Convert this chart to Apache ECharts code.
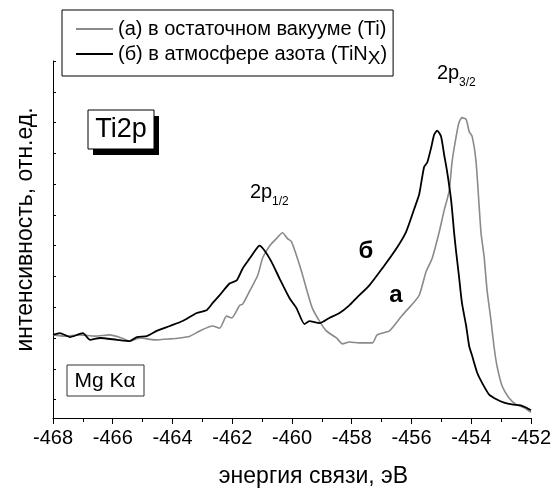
<!DOCTYPE html>
<html lang="ru">
<head>
<meta charset="UTF-8">
<title>Ti2p</title>
<script src="https://cdn.jsdelivr.net/npm/echarts@6/dist/echarts.min.js"></script>
<style>
    body { margin:0; padding:0; background:#fff; }
    #main { width:554px; height:493px; }
</style>
</head>
<body>
<div id="main"></div>
<script>
    // (а) остаточный вакуум, Ti
    var energyA = [-468.00,-467.60,-467.10,-466.60,-466.10,-465.70,-465.43,-465.09,-464.59,-464.09,-463.76,-463.42,-463.09,-462.66,-462.42,-462.19,-462.02,-461.75,-461.65,-461.42,-461.15,-460.99,-460.85,-460.69,-460.52,-460.32,-460.15,-460.02,-459.85,-459.68,-459.52,-459.32,-459.08,-458.85,-458.51,-458.31,-458.08,-457.75,-457.31,-457.15,-456.74,-456.31,-456.01,-455.74,-455.51,-455.31,-455.07,-454.91,-454.74,-454.64,-454.51,-454.41,-454.31,-454.17,-454.07,-453.97,-453.84,-453.74,-453.67,-453.57,-453.47,-453.34,-453.24,-453.14,-452.97,-452.74,-452.50,-452.24,-452.00];
    var intensA = [2.10,2.06,2.10,2.06,2.10,2.00,1.90,2.00,1.94,1.97,2.00,2.06,2.23,2.39,2.32,2.71,2.65,3.06,3.10,3.52,4.03,4.58,4.84,5.06,5.23,5.42,5.23,5.13,4.68,4.16,3.61,2.97,2.55,2.23,2.00,1.81,1.87,1.84,1.84,2.10,2.23,2.74,3.06,3.39,4.16,4.58,5.45,6.13,6.77,7.74,8.52,9.00,9.16,9.10,8.71,8.55,7.74,6.35,5.39,4.65,3.55,2.58,1.74,1.10,0.45,0.06,-0.16,-0.26,-0.42];

    // (б) атмосфера азота, TiNx
    var energyB = [-468.00,-467.77,-467.43,-467.00,-466.76,-466.43,-465.86,-465.43,-465.19,-464.86,-464.53,-464.09,-463.66,-463.19,-462.86,-462.66,-462.42,-462.09,-461.85,-461.65,-461.42,-461.19,-461.09,-460.92,-460.69,-460.42,-460.08,-459.85,-459.58,-459.42,-459.08,-458.75,-458.41,-458.08,-457.85,-457.41,-456.98,-456.51,-456.18,-455.91,-455.74,-455.58,-455.47,-455.34,-455.24,-455.14,-455.01,-454.91,-454.81,-454.67,-454.57,-454.51,-454.41,-454.31,-454.17,-454.07,-453.97,-453.80,-453.64,-453.40,-453.14,-452.90,-452.64,-452.34,-452.17,-452.00];
    var intensB = [2.10,2.16,2.03,2.16,1.94,2.00,1.94,1.90,2.03,2.06,2.23,2.39,2.55,2.81,2.90,3.13,3.39,3.77,3.87,4.26,4.58,4.90,5.00,4.84,4.48,3.94,3.29,2.97,2.45,2.55,2.48,2.65,2.81,3.06,3.29,3.71,4.26,4.90,5.45,6.19,6.68,7.55,7.71,8.19,8.61,8.74,8.55,7.97,7.42,6.45,5.39,4.84,4.00,3.13,2.39,1.74,1.42,0.87,0.55,0.16,0.00,-0.10,-0.16,-0.19,-0.26,-0.35];

    var yTicks = [0,1,2,3,4,5,6,7,8,9,10,11];
    var nameA = '(а) в остаточном вакууме (Ti)';
    var nameB = '(б) в атмосфере азота (TiNx)';

    var font = 'Liberation Sans, Arial, sans-serif';

    function pairs(xs, ys) {
        return xs.map(function (x, i) { return [x, ys[i]]; });
    }

    var myChart = echarts.init(document.getElementById('main'));

    var option = {
        backgroundColor: '#fff',
        animation: false,
        textStyle: { fontFamily: font },
        grid: { left: 53, right: 22, top: 61, bottom: 72 },
        legend: {
            left: 62, top: 10,
            orient: 'vertical',
            data: [
                { name: nameA, icon: 'rect', itemStyle: { color: '#8a8a8a' } },
                { name: nameB, icon: 'rect', itemStyle: { color: '#000' } }
            ],
            borderColor: '#000', borderWidth: 1,
            padding: [9, 6, 8, 14],
            itemWidth: 37, itemHeight: 2, itemGap: 5,
            textStyle: {
                fontFamily: font, fontSize: 20, color: '#000',
                rich: {
                    t: { fontFamily: font, fontSize: 20, color: '#000' },
                    s: { fontFamily: font, fontSize: 19, color: '#000', padding: [9, 0, 0, 0] }
                }
            },
            formatter: function (name) {
                if (name === nameB) return '{t|(б) в атмосфере азота (TiN}{s|X}{t|)}';
                return name;
            }
        },
        xAxis: {
            type: 'value',
            min: -468, max: -452, interval: 2,
            name: 'энергия связи, эВ',
            nameLocation: 'middle', nameGap: 47,
            nameTextStyle: { fontFamily: font, fontSize: 23, color: '#000', padding: [0, 0, 0, 43] },
            axisLine: { show: true, onZero: false, lineStyle: { color: '#000', width: 1 } },
            axisTick: { show: true, inside: false, length: 6, lineStyle: { color: '#000' } },
            minorTick: { show: true, splitNumber: 2, length: 4, lineStyle: { color: '#000' } },
            axisLabel: { fontFamily: font, fontSize: 20, color: '#000', margin: 10 },
            splitLine: { show: false }
        },
        yAxis: {
            type: 'value',
            min: -0.6, max: 11,
            name: 'интенсивность, отн.ед.',
            nameLocation: 'middle', nameGap: 16,
            nameTextStyle: { fontFamily: font, fontSize: 23, color: '#000', padding: [0, 0, 0, 20] },
            axisLine: { show: true, onZero: false, lineStyle: { color: '#000', width: 1 } },
            axisTick: { show: true, inside: true, length: 3, customValues: yTicks, lineStyle: { color: '#000' } },
            axisLabel: { show: false },
            splitLine: { show: false }
        },
        series: [
            {
                name: nameA, type: 'line', data: pairs(energyA, intensA),
                symbol: 'none', smooth: 0.2,
                lineStyle: { color: '#8a8a8a', width: 1.6 },
                itemStyle: { color: '#8a8a8a' }
            },
            {
                name: nameB, type: 'line', data: pairs(energyB, intensB),
                symbol: 'none', smooth: 0.2,
                lineStyle: { color: '#000', width: 1.8 },
                itemStyle: { color: '#000' }
            }
        ],
        graphic: [
            // Ti2p в рамке с тенью
            { type: 'rect', shape: { x: 93, y: 116, width: 66, height: 39 }, style: { fill: '#000' } },
            { type: 'rect', shape: { x: 88, y: 110, width: 66, height: 39 }, style: { fill: '#fff', stroke: '#000', lineWidth: 1 } },
            { type: 'text', x: 121, y: 130, style: { text: 'Ti2p', font: '27px ' + font, fill: '#000', align: 'center', verticalAlign: 'middle' } },
            // Mg Ka
            { type: 'rect', shape: { x: 67, y: 365, width: 77, height: 31 }, style: { fill: '#fff', stroke: '#333', lineWidth: 1 } },
            { type: 'text', x: 105, y: 381, style: { text: 'Mg Kα', font: '21px ' + font, fill: '#000', align: 'center', verticalAlign: 'middle' } },
            // пики
            { type: 'text', x: 437, y: 73, style: { text: '2p', font: '20px ' + font, fill: '#000', verticalAlign: 'middle' } },
            { type: 'text', x: 459, y: 83, style: { text: '3/2', font: '12px ' + font, fill: '#000', verticalAlign: 'middle' } },
            { type: 'text', x: 250, y: 192, style: { text: '2p', font: '20px ' + font, fill: '#000', verticalAlign: 'middle' } },
            { type: 'text', x: 272, y: 202, style: { text: '1/2', font: '12px ' + font, fill: '#000', verticalAlign: 'middle' } },
            { type: 'text', x: 366, y: 251, style: { text: 'б', font: 'bold 24px ' + font, fill: '#000', align: 'center', verticalAlign: 'middle' } },
            { type: 'text', x: 396, y: 295, style: { text: 'а', font: 'bold 24px ' + font, fill: '#000', align: 'center', verticalAlign: 'middle' } }
        ]
    };

    myChart.setOption(option);
</script>
</body>
</html>
